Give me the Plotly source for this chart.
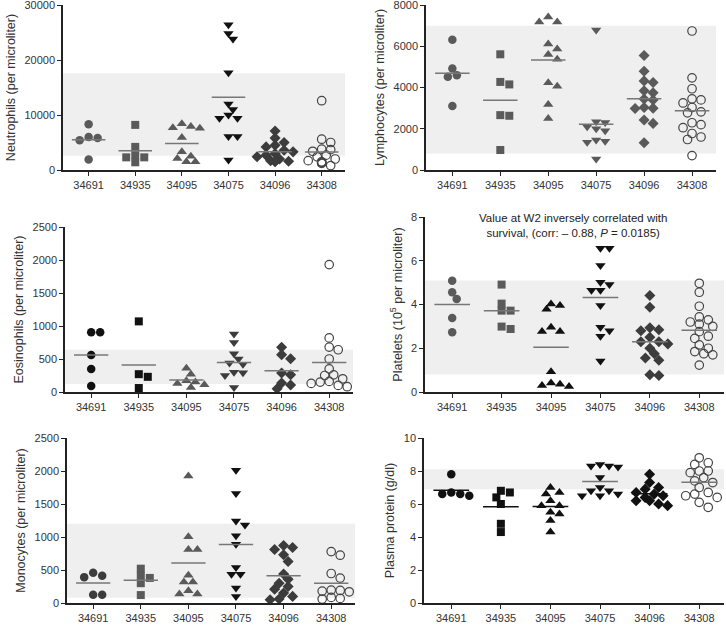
import plotly.graph_objects as go

categories = ["34691", "34935", "34095", "34075", "34096", "34308"]

neutrophils = [
    [8300, 5800, 5400, 6000, 1900],
    [8200, 4200, 2700, 2300, 2300, 1400],
    [8400, 7900, 7700, 7600, 5900, 3300, 2500, 2100, 1500, 1500],
    [26400, 24800, 23800, 17700, 12000, 11000, 10000, 9400, 9400, 6100, 6100, 1800],
    [7100, 5800, 5000, 4500, 4200, 3600, 3300, 3000, 2700, 2400, 2000, 1700, 1600, 1500, 1600],
    [12600, 5600, 5000, 3800, 3700, 3400, 2700, 2400, 2000, 1700, 1500, 1400, 1300, 1200, 800],
]
lymphocytes = [
    [6320, 4920, 4600, 4520, 3100],
    [5610, 4270, 4150, 2660, 2630, 970],
    [7420, 7180, 7180, 6110, 5870, 5600, 5370, 4230, 4060, 3180, 2500],
    [6790, 2340, 2300, 2100, 2000, 1900, 1450, 1400, 1350, 530],
    [5550, 4790, 4320, 4240, 3840, 3750, 3440, 3400, 3030, 3000, 2980, 2420, 2260, 1320],
    [6740, 4470, 3940, 3450, 3400, 3250, 3030, 2820, 2770, 2290, 2200, 2050, 1770, 1600, 1480, 700],
]
eosinophils = [
    [905, 905, 560, 350, 90],
    [1070, 270, 230, 60],
    [360, 270, 170, 150, 130, 110, 70],
    [880, 750, 580, 500, 440, 420, 300, 290, 250, 70],
    [677, 566, 505, 288, 262, 136, 106, 50],
    [1930, 820, 680, 640, 500, 350, 260, 250, 200, 160, 150, 130, 100, 80],
]
platelets = [
    [5.09, 4.56, 4.25, 3.38, 2.73],
    [4.91, 4.04, 3.72, 3.72, 2.99, 2.88],
    [4.02, 3.95, 3.78, 2.96, 2.77, 2.77, 0.93, 0.41, 0.35, 0.30, 0.25],
    [6.57, 6.57, 5.78, 5.02, 4.91, 4.65, 4.65, 3.95, 2.96, 2.80, 2.55, 1.42],
    [4.41, 3.87, 2.94, 2.85, 2.80, 2.50, 2.30, 2.30, 2.20, 2.00, 1.75, 1.55, 1.45, 0.79, 0.75],
    [4.97, 4.56, 3.92, 3.43, 3.30, 3.20, 3.10, 3.00, 2.76, 2.55, 2.45, 2.15, 2.00, 1.85, 1.75, 1.70, 1.23],
]
monocytes = [
    [412, 392, 457, 126, 126],
    [520, 410, 380, 300, 120],
    [1925, 1005, 810, 810, 420, 320, 320, 186, 136, 136],
    [2010, 1658, 1241, 1180, 1020, 889, 538, 437, 437, 226, 100],
    [870, 840, 810, 730, 630, 440, 360, 300, 250, 210, 150, 100, 60, 50],
    [779, 724, 447, 377, 196, 190, 180, 170, 85, 70, 60],
]
plasma_protein = [
    [7.8, 6.7, 6.6, 6.5, 6.6],
    [6.8, 6.7, 6.4, 6.0, 4.8, 4.3],
    [7.0, 6.7, 6.6, 6.2, 5.9, 5.9, 5.5, 5.4, 5.0, 4.3],
    [8.4, 8.3, 8.3, 8.25, 7.6, 7.0, 6.8, 6.8, 6.6, 6.5, 6.5],
    [7.8, 7.3, 7.0, 6.9, 6.7, 6.6, 6.5, 6.4, 6.2, 6.2, 6.0, 5.9],
    [8.8, 8.5, 8.4, 8.0, 8.0, 7.9, 7.6, 7.4, 7.3, 7.0, 6.7, 6.6, 6.5, 6.4, 6.1, 5.8],
]

y_titles = [
    "Neutrophils (per microliter)",
    "Lymphocytes (per microliter)",
    "Eosinophils (per microliter)",
    "Platelets (10<sup>5</sup> per microliter)",
    "Monocytes (per microliter)",
    "Plasma protein (g/dl)",
]
y_max = [30000, 8000, 2500, 8, 2500, 10]
y_dtick = [10000, 2000, 500, 2, 500, 2]
normal_low = [2600, 800, 120, 0.8, 80, 6.9]
normal_high = [17600, 7000, 640, 5.1, 1200, 8.1]

panels = [neutrophils, lymphocytes, eosinophils, platelets, monocytes, plasma_protein]

# ---- layout / style (not data) ----
W, H = 726, 625
domains = [
    ((63, 345), (5, 170)),
    ((426, 716), (5, 170)),
    ((65, 353), (227, 392)),
    ((425, 724), (217, 392)),
    ((67, 355), (438, 603)),
    ((424, 724), (438, 603)),
]
symbols = ["circle", "square", "triangle-up", "triangle-down", "diamond", "circle-open"]
sizes = [8.5, 8, 9, 9, 8.5, 8.5]
G, D, K = "#5a5a5a", "#3c3c3c", "#111111"
group_colors = [
    [G, G, G, K, D, D],
    [G, G, G, G, G, D],
    [K, K, G, D, D, D],
    [G, G, K, K, D, D],
    [D, G, G, K, D, D],
    [K, K, K, K, K, D],
]
mean_colors = [
    ["#777"] * 6,
    ["#777"] * 6,
    ["#777"] * 6,
    ["#777"] * 6,
    ["#777"] * 6,
    [K, K, K, "#777", K, "#777"],
]
XR = (-0.55, 5.5)


def swarm(vals, px_per_y, px_per_x, diam):
    placed = []
    offs = [0.0] * len(vals)
    order = sorted(range(len(vals)), key=lambda i: -vals[i])
    step = diam * 0.45
    min_d = diam * 0.68
    for i in order:
        yp = vals[i] * px_per_y
        k = 0
        while True:
            cands = [0.0] if k == 0 else [k * step, -k * step]
            ok = None
            for c in cands:
                if all((c - px) ** 2 + (yp - py) ** 2 >= min_d ** 2 for px, py in placed):
                    ok = c
                    break
            if ok is None and k * step >= 14:
                ok = (k % 3 - 1) * step
            if ok is not None:
                placed.append((ok, yp))
                offs[i] = ok / px_per_x
                break
            k += 1
    return offs


fig = go.Figure()
shapes = []
annotations = []
font_family = "Liberation Sans, Arial, sans-serif"

for p, data in enumerate(panels):
    n = p + 1
    xa = "x" if n == 1 else f"x{n}"
    ya = "y" if n == 1 else f"y{n}"
    (xl, xr), (yt, yb) = domains[p]
    px_per_x = (xr - xl) / (XR[1] - XR[0])
    px_per_y = (yb - yt) / y_max[p]
    for g, vals in enumerate(data):
        offs = swarm(vals, px_per_y, px_per_x, 10)
        col = group_colors[p][g]
        sym = symbols[g]
        if sym == "circle-open":
            marker = dict(symbol=sym, size=sizes[g], color="#444", line=dict(width=1.2, color="#444"))
        else:
            marker = dict(symbol=sym, size=sizes[g], color=col, line=dict(width=0))
        fig.add_trace(go.Scatter(
            x=[g + o for o in offs], y=vals, mode="markers", marker=marker,
            xaxis=xa, yaxis=ya, showlegend=False, cliponaxis=False,
        ))
        mean = sum(vals) / len(vals)
        fig.add_trace(go.Scatter(
            x=[g - 0.36, g + 0.36], y=[mean, mean], mode="lines",
            line=dict(color=mean_colors[p][g], width=1.5),
            xaxis=xa, yaxis=ya, showlegend=False, hoverinfo="skip",
        ))
    shapes.append(dict(
        type="rect", xref=f"{xa} domain", yref=ya, x0=0, x1=1,
        y0=normal_low[p], y1=normal_high[p], fillcolor="#efefef",
        line=dict(width=0), layer="below",
    ))
    axis_common = dict(showline=True, linecolor="#222", linewidth=1.5, ticks="outside",
                       ticklen=4, tickcolor="#222", tickwidth=1.2, showgrid=False, zeroline=False,
                       tickfont=dict(size=11, color="#333", family=font_family), automargin=False,
                       ticklabeloverflow="allow")
    fig.update_layout({
        ("xaxis" if n == 1 else f"xaxis{n}"): dict(
            domain=[xl / W, xr / W], anchor=ya, range=list(XR),
            tickvals=list(range(len(categories))), ticktext=categories, **axis_common),
        ("yaxis" if n == 1 else f"yaxis{n}"): dict(
            domain=[1 - yb / H, 1 - yt / H], anchor=xa, range=[0, y_max[p]],
            dtick=y_dtick[p], tick0=0, tickformat="d",
            title=dict(text=y_titles[p], standoff=6,
                       font=dict(size=12.5, color="#333", family=font_family)),
            **axis_common),
    })

annotations.append(dict(
    xref="paper", yref="paper", x=573 / W, y=1 - 225 / H, showarrow=False,
    xanchor="center", yanchor="middle",
    text="Value at W2 inversely correlated with<br>survival, (corr: \u2013 0.88, <i>P</i> = 0.0185)",
    font=dict(size=11.5, color="#222", family=font_family), align="center",
))

fig.update_layout(
    width=W, height=H, margin=dict(l=0, r=0, t=0, b=0),
    paper_bgcolor="white", plot_bgcolor="rgba(0,0,0,0)",
    shapes=shapes, annotations=annotations,
    font=dict(family=font_family, color="#333"),
)

fig.write_html("out.html", config={"displayModeBar": False},
               post_script="document.body.style.margin='0';document.body.style.overflow='hidden';")
